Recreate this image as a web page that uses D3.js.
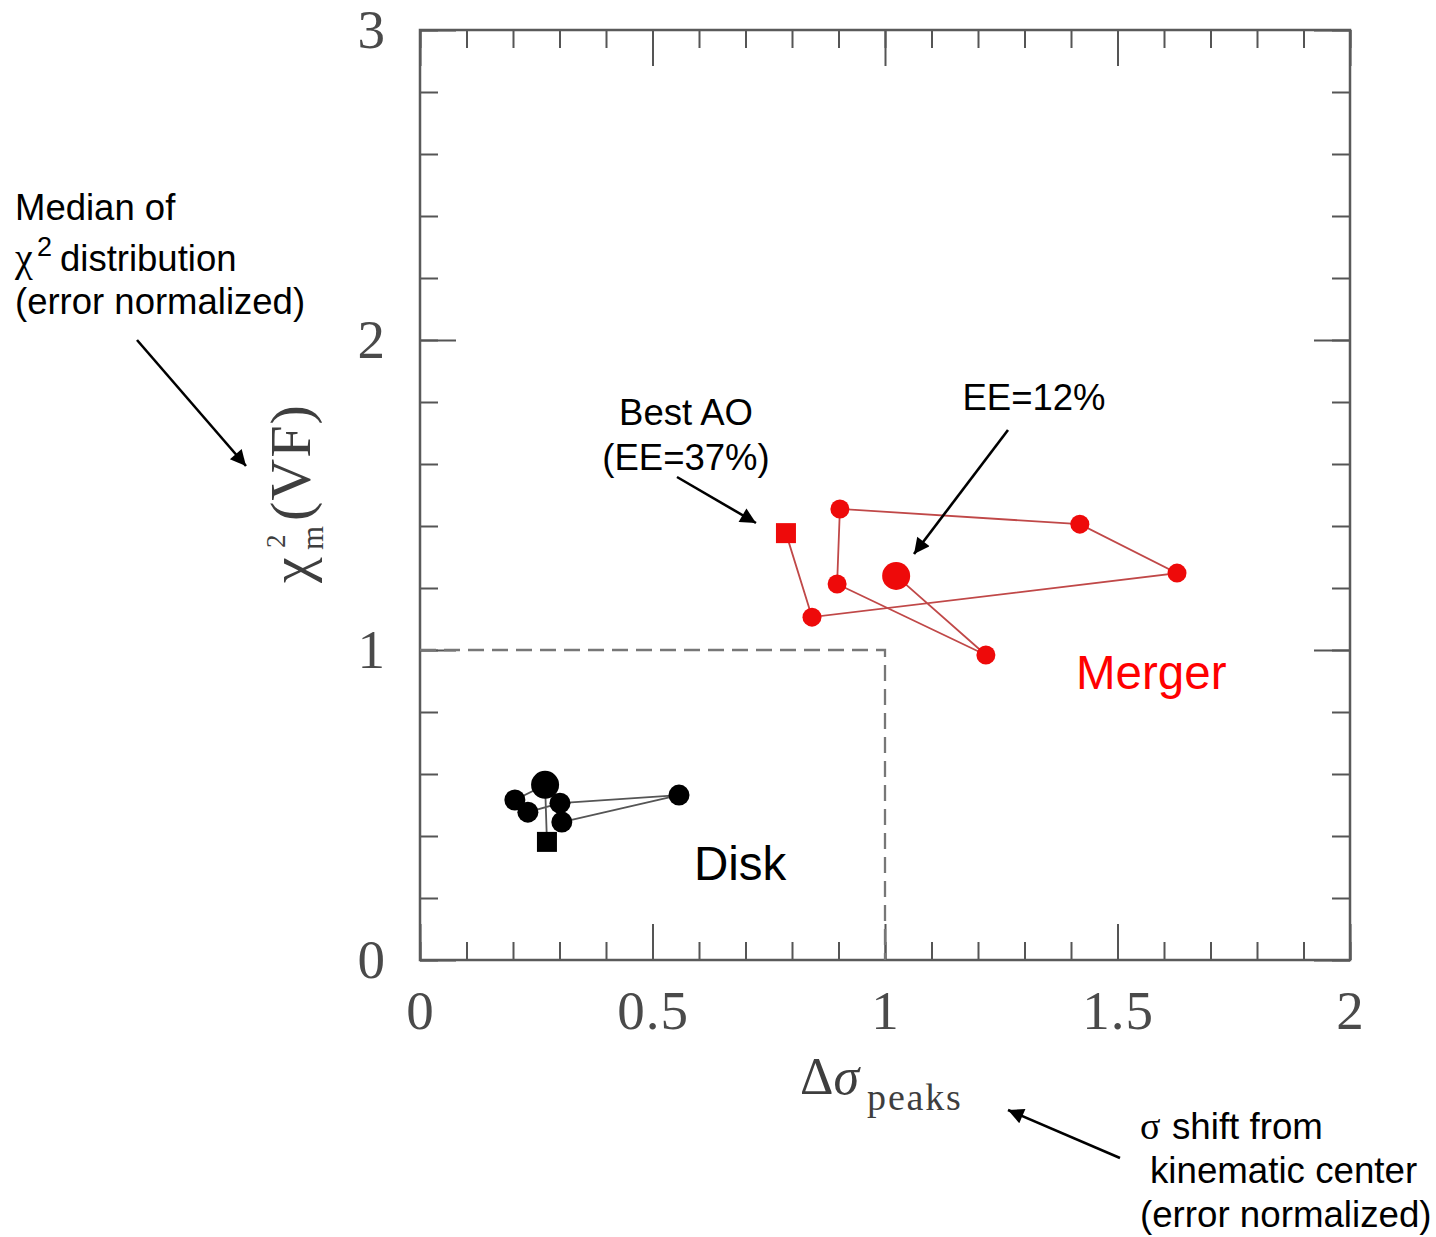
<!DOCTYPE html>
<html>
<head>
<meta charset="utf-8">
<script src="https://cdn.jsdelivr.net/npm/d3@7"></script>
<style>
  html, body { margin: 0; padding: 0; background: #ffffff; }
  svg { display: block; }
</style>
</head>
<body>
<svg id="chart" width="1436" height="1237"></svg>
<script>
// ---- data ----
// Merger track: starts at the best-AO square, ends at the EE=12% (large) point
const mergerX = [0.787, 0.843, 1.628, 1.419, 0.903, 0.897, 1.217, 1.024];
const mergerY = [1.377, 1.106, 1.248, 1.406, 1.455, 1.213, 0.984, 1.239];
// Disk track: starts at the best-AO square
const diskX = [0.273, 0.269, 0.204, 0.232, 0.301, 0.557, 0.305];
const diskY = [0.381, 0.565, 0.516, 0.477, 0.506, 0.532, 0.445];
// marker kind per point: "sq" = best AO, "big" = EE=12% set-up, "pt" = other
const mergerKind = ["sq", "pt", "pt", "pt", "pt", "pt", "pt", "big"];
const diskKind = ["sq", "big", "pt", "pt", "pt", "pt", "pt"];

const xMajor = [0, 0.5, 1, 1.5, 2];
const xMajorLabels = ["0", "0.5", "1", "1.5", "2"];
const yMajor = [0, 1, 2, 3];
const yMajorLabels = ["0", "1", "2", "3"];
const xMinor = d3.range(0, 21).map(i => i / 10);
const yMinor = d3.range(0, 16).map(i => i / 5);
// disk / merger boundary
const boundary = [[0, 1], [1, 1], [1, 0]];

// ---- layout ----
const svg = d3.select("#chart");
const plotLeft = 420, plotRight = 1350, plotTop = 30, plotBottom = 960;
const x = d3.scaleLinear().domain([0, 2]).range([plotLeft, plotRight]);
const y = d3.scaleLinear().domain([0, 3]).range([plotBottom, plotTop]);

const axisColor = "#555";
const tickFont = "'Liberation Serif', 'DejaVu Serif', serif";

function styleAxis(g) {
  g.select(".domain").remove();
  g.selectAll(".tick line").attr("stroke", axisColor).attr("stroke-width", 2);
  g.selectAll(".tick text")
    .attr("fill", "#4a4a4a")
    .attr("font-family", tickFont)
    .attr("font-size", 55)
    .attr("letter-spacing", 1);
}

// minor ticks on all four sides (pointing inward)
svg.append("g").attr("transform", `translate(0,${plotBottom})`)
  .call(d3.axisBottom(x).tickValues(xMinor).tickSize(-18).tickSizeOuter(0).tickFormat(""))
  .call(styleAxis);
svg.append("g").attr("transform", `translate(0,${plotTop})`)
  .call(d3.axisTop(x).tickValues(xMinor).tickSize(-18).tickSizeOuter(0).tickFormat(""))
  .call(styleAxis);
svg.append("g").attr("transform", `translate(${plotLeft},0)`)
  .call(d3.axisLeft(y).tickValues(yMinor).tickSize(-18).tickSizeOuter(0).tickFormat(""))
  .call(styleAxis);
svg.append("g").attr("transform", `translate(${plotRight},0)`)
  .call(d3.axisRight(y).tickValues(yMinor).tickSize(-18).tickSizeOuter(0).tickFormat(""))
  .call(styleAxis);

// major ticks with labels
svg.append("g").attr("transform", `translate(0,${plotBottom})`)
  .call(d3.axisBottom(x).tickValues(xMajor).tickSize(-36).tickSizeOuter(0).tickPadding(30)
    .tickFormat((d, i) => xMajorLabels[i]))
  .call(styleAxis);
svg.append("g").attr("transform", `translate(0,${plotTop})`)
  .call(d3.axisTop(x).tickValues(xMajor).tickSize(-36).tickSizeOuter(0).tickFormat(""))
  .call(styleAxis);
svg.append("g").attr("transform", `translate(${plotLeft},0)`)
  .call(d3.axisLeft(y).tickValues(yMajor).tickSize(-36).tickSizeOuter(0).tickPadding(34)
    .tickFormat((d, i) => yMajorLabels[i]))
  .call(styleAxis);
svg.append("g").attr("transform", `translate(${plotRight},0)`)
  .call(d3.axisRight(y).tickValues(yMajor).tickSize(-36).tickSizeOuter(0).tickFormat(""))
  .call(styleAxis);

// frame
svg.append("rect")
  .attr("x", plotLeft).attr("y", plotTop)
  .attr("width", plotRight - plotLeft).attr("height", plotBottom - plotTop)
  .attr("fill", "none").attr("stroke", "#5a5a5a").attr("stroke-width", 2.5);

// dashed boundary
svg.append("path")
  .datum(boundary)
  .attr("d", d3.line().x(d => x(d[0])).y(d => y(d[1])))
  .attr("fill", "none").attr("stroke", "#777").attr("stroke-width", 2.3)
  .attr("stroke-dasharray", "16,8");

// tracks
function drawTrack(xs, ys, kinds, lineColor, markColor, r, rBig, sq) {
  const pts = xs.map((v, i) => ({ x: v, y: ys[i], k: kinds[i] }));
  svg.append("path")
    .datum(pts)
    .attr("d", d3.line().x(d => x(d.x)).y(d => y(d.y)))
    .attr("fill", "none").attr("stroke", lineColor).attr("stroke-width", 1.8);
  const g = svg.append("g");
  g.selectAll("circle").data(pts.filter(d => d.k !== "sq")).join("circle")
    .attr("cx", d => x(d.x)).attr("cy", d => y(d.y))
    .attr("r", d => d.k === "big" ? rBig : r)
    .attr("fill", markColor);
  g.selectAll("rect").data(pts.filter(d => d.k === "sq")).join("rect")
    .attr("x", d => x(d.x) - sq / 2).attr("y", d => y(d.y) - sq / 2)
    .attr("width", sq).attr("height", sq)
    .attr("fill", markColor);
}
drawTrack(diskX, diskY, diskKind, "#555", "#000", 10.5, 14, 20);
drawTrack(mergerX, mergerY, mergerKind, "#c04848", "#ee0a0a", 9.5, 14, 20);

// axis titles
const yTitle = svg.append("g")
  .attr("transform", "translate(310,583) rotate(-90)")
  .attr("font-family", tickFont).attr("fill", "#3e3e3e");
yTitle.append("text").attr("x", 0).attr("y", 0).attr("font-size", 58).text("χ");
yTitle.append("text").attr("x", 35).attr("y", -25).attr("font-size", 27).text("2");
yTitle.append("text").attr("x", 33).attr("y", 13).attr("font-size", 31).text("m");
yTitle.append("text").attr("x", 62).attr("y", 0).attr("font-size", 58).attr("letter-spacing", 1).text("(VF)");

const xTitle = svg.append("text")
  .attr("x", 800).attr("y", 1094)
  .attr("font-family", tickFont).attr("fill", "#3e3e3e").attr("font-size", 52);
xTitle.append("tspan").text("Δ");
xTitle.append("tspan").attr("font-style", "italic").text("σ");
xTitle.append("tspan").attr("dy", 16).attr("font-size", 38).attr("dx", 8)
  .attr("letter-spacing", 1.8).text("peaks");

// annotations
const sans = "'Liberation Sans', Arial, sans-serif";
const symb = "'Liberation Serif', 'DejaVu Serif', serif";

svg.append("defs").append("marker")
  .attr("id", "head").attr("viewBox", "0 0 10 10")
  .attr("refX", 10).attr("refY", 5)
  .attr("markerWidth", 7).attr("markerHeight", 6).attr("markerUnits", "strokeWidth")
  .attr("orient", "auto")
  .append("path").attr("d", "M0,0 L10,5 L0,10 Z").attr("fill", "#000");

function arrow(x1, y1, x2, y2) {
  svg.append("line")
    .attr("x1", x1).attr("y1", y1).attr("x2", x2).attr("y2", y2)
    .attr("stroke", "#000").attr("stroke-width", 2.6)
    .attr("marker-end", "url(#head)");
}

function label(txt, xx, yy, size, anchor, color) {
  return svg.append("text").attr("x", xx).attr("y", yy)
    .attr("font-family", sans).attr("font-size", size)
    .attr("text-anchor", anchor || "start").attr("fill", color || "#000")
    .text(txt);
}

// left note
label("Median of", 15, 220, 36.5);
svg.append("text").attr("x", 15).attr("y", 271)
  .attr("font-family", symb).attr("font-size", 40).attr("fill", "#000").text("χ");
svg.append("text").attr("x", 37).attr("y", 256)
  .attr("font-family", sans).attr("font-size", 27).attr("fill", "#000").text("2");
label("distribution", 60, 271, 36.5);
label("(error normalized)", 15, 314, 36.5);
arrow(137, 340, 246, 466);

// best AO
label("Best AO", 686, 425, 36.5, "middle");
label("(EE=37%)", 686, 470, 36.5, "middle");
arrow(677, 477, 756, 523);

// EE=12%
label("EE=12%", 1034, 410, 36.5, "middle");
arrow(1008, 430, 914, 554);

// region names
label("Merger", 1076, 689, 47.5, "start", "#ff0000");
label("Disk", 694, 880, 47.5, "start");

// bottom-right note
svg.append("text").attr("x", 1140).attr("y", 1139)
  .attr("font-family", symb).attr("font-size", 38).attr("fill", "#000").text("σ");
label("shift from", 1172, 1139, 36.7);
label("kinematic center", 1150, 1183, 36.7);
label("(error normalized)", 1140, 1227, 36.7);
arrow(1120, 1158, 1008, 1110);
</script>
</body>
</html>
